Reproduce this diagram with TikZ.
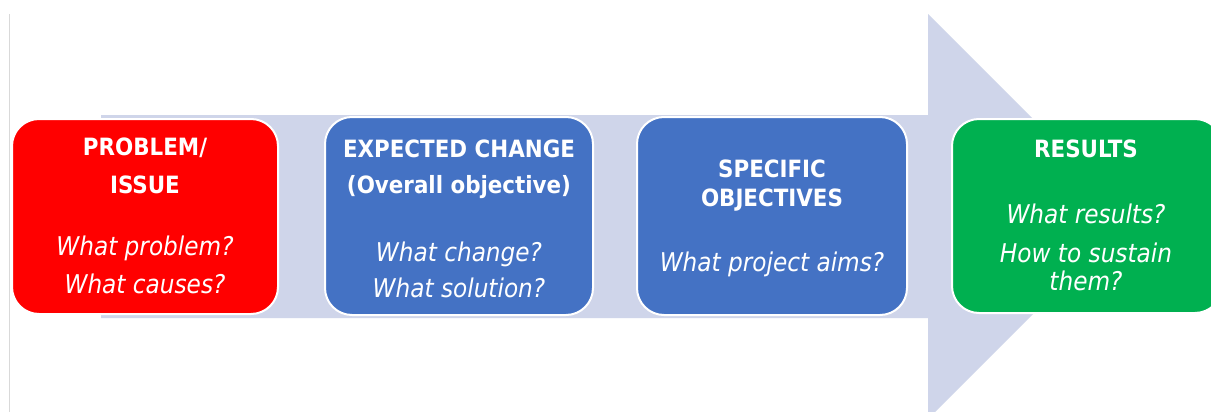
\documentclass[tikz,border=0pt]{standalone}
\usepackage{fontspec}
\setmainfont{DejaVu Sans Condensed}
\definecolor{arrowfill}{HTML}{CFD5EA}
\definecolor{redbox}{HTML}{FF0000}
\definecolor{bluebox}{HTML}{4472C4}
\definecolor{greenbox}{HTML}{00B050}
\definecolor{edgegray}{HTML}{D9D9D9}
\tikzset{
  box/.style={draw=white, line width=1pt, rounded corners=13.5pt},
  hd/.style={text=white, font=\fontsize{11.9}{14}\selectfont\bfseries, anchor=base, inner sep=0pt},
  qs/.style={text=white, font=\fontsize{12.9}{14}\selectfont\itshape, anchor=base, inner sep=0pt},
}
\begin{document}
\begin{tikzpicture}[x=0.5pt, y=-0.5pt]
\useasboundingbox (0,0) rectangle (1211,412);
\clip (0,0) rectangle (1211,412);
\fill[white] (0,0) rectangle (1211,412);
\draw[edgegray, line width=0.5pt] (9.5,14) -- (9.5,412);
% big arrow
\fill[arrowfill] (101,115) -- (928,115) -- (928,14) -- (1130.5,216.5) -- (928,419) -- (928,318) -- (101,318) -- cycle;
% boxes
\draw[box, fill=redbox] (12,119) rectangle (278,314);
\draw[box, fill=bluebox] (325,117) rectangle (593,315);
\draw[box, fill=bluebox] (637,117) rectangle (907,315);
\draw[box, fill=greenbox] (952,119) rectangle (1222,313);
% red texts
\node[hd] (r1) at (145,155) {PROBLEM/};
\node[hd] (r2) at (145,193) {ISSUE};
\node[qs] (r3) at (145,255) {What problem?};
\node[qs] (r4) at (145,293) {What causes?};
% blue 1
\node[hd] (b1) at (459,157) {EXPECTED CHANGE};
\node[hd] (b2) at (459,193) {(Overall objective)};
\node[qs] (b3) at (459,261) {What change?};
\node[qs] (b4) at (459,297) {What solution?};
% blue 2
\node[hd] (c1) at (772,177) {SPECIFIC};
\node[hd] (c2) at (772,206) {OBJECTIVES};
\node[qs] (c3) at (772,271) {What project aims?};
% green
\node[hd] (g1) at (1086,157) {RESULTS};
\node[qs] (g2) at (1086,223) {What results?};
\node[qs] (g3) at (1086,262) {How to sustain};
\node[qs] (g4) at (1086,290) {them?};
\end{tikzpicture}
\end{document}
